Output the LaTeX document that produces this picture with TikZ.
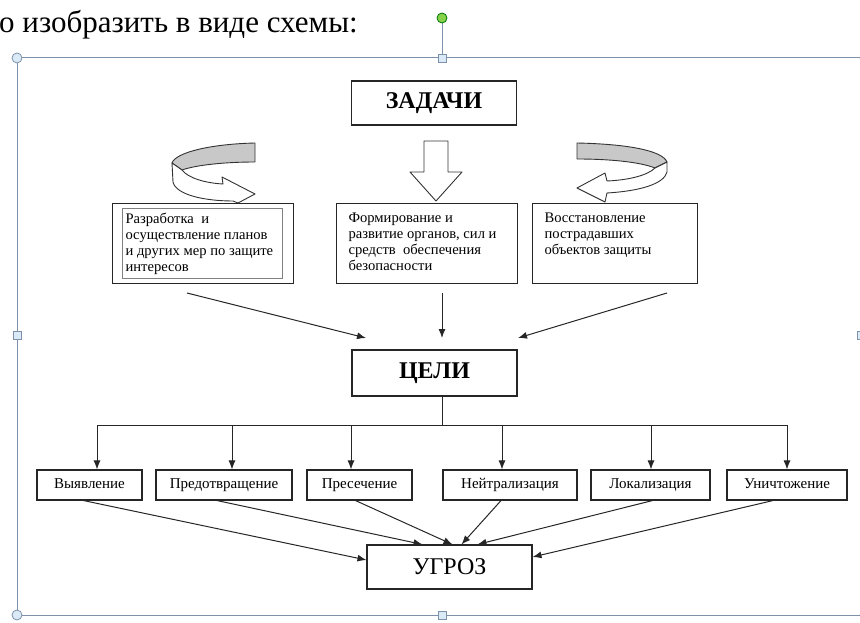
\documentclass[tikz,border=0pt]{standalone}
\usepackage{fontspec}
\setmainfont{Liberation Serif}
\usetikzlibrary{arrows.meta}

\definecolor{selframe}{RGB}{125,145,170}
\definecolor{selfill}{RGB}{218,234,246}
\definecolor{rotgreen}{RGB}{135,210,75}
\definecolor{bandgray}{RGB}{200,200,200}

\begin{document}
\begin{tikzpicture}[x=1pt,y=-1pt,
	box/.style={draw=black!85,line width=1.1pt,inner sep=0pt,align=center},
	big/.style={box,minimum width=165pt,font=\fontsize{24}{28}\selectfont},
	txtbox/.style={draw=black!85,line width=1.1pt,anchor=north west,inner xsep=12pt,inner ysep=9pt,font=\fontsize{14.6}{16}\selectfont},
	small/.style={box,minimum height=30pt,text height=10.5pt,text depth=3pt,font=\fontsize{15}{16}\selectfont},
	arr/.style={-{Latex[length=9pt,width=7pt]},line width=1pt,black!85},
	conn/.style={line width=1pt,black!85},
	curl/.style={draw=black!80,line width=0.9pt,line join=round},
	hdl/.style={draw=selframe,fill=selfill,line width=0.8pt}]
	\useasboundingbox (0,0) rectangle (860,623);

	% text above the drawing
	\node[anchor=base west,inner sep=0pt,font=\fontsize{31}{36}\selectfont] (caption) at (-1,33) {о изобразить в виде схемы:};

	% selection frame
	\draw[selframe,line width=1pt] (866,58) -- (17,58) -- (17,615) -- (866,615);
	\draw[selframe,line width=1pt] (442,23) -- (442,54);
	\draw[draw=green!45!black,fill=rotgreen,line width=0.8pt] (442,18) circle[radius=5pt];
	\draw[hdl] (17,58) circle[radius=5pt];
	\draw[hdl] (17,615) circle[radius=5pt];
	\draw[hdl] (865,58) circle[radius=5pt];
	\draw[hdl] (865,615) circle[radius=5pt];
	\draw[hdl] (438,54) rectangle (446,62);
	\draw[hdl] (438,611) rectangle (446,619);
	\draw[hdl] (13,331) rectangle (21,339);
	\draw[hdl] (857,331) rectangle (865,339);

	% main boxes
	\node[big,font=\bfseries\fontsize{24}{28}\selectfont,minimum height=44pt] (tasks) at (434,103) {ЗАДАЧИ};
	\node[big,font=\bfseries\fontsize{24}{28}\selectfont,minimum height=46pt] (goals) at (434.5,373) {ЦЕЛИ};
	\node[big,minimum height=44pt] (threat) at (449.5,567) {УГРОЗ};

	% tasks
	\node[txtbox,inner xsep=13pt] (plans) at (112,203) {\parbox[t][62pt][t]{155pt}{\raggedright Разработка\ \ и\\ осуществление планов\\ и других мер по защите\\ интересов}};
	\draw[gray,line width=0.6pt] ([shift={(10pt,-5pt)}]plans.north west) rectangle ([shift={(-12pt,6pt)}]plans.south east);
	\node[txtbox] (forces) at (336,203) {\parbox[t][62pt][t]{157pt}{\raggedright Формирование и\\ развитие органов, сил и\\ средств\ \ обеспечения\\ безопасности}};
	\node[txtbox] (restore) at (532,203) {\parbox[t][62pt][t]{141pt}{\raggedright Восстановление\\ пострадавших\\ объектов защиты}};

	% curved arrows
	\draw[curl,fill=bandgray] (255,143) .. controls (212,144) and (176,152) .. (172,163) -- (182,170) .. controls (196,165) and (225,162) .. (255,162) -- cycle;
	\draw[curl,fill=white] (172,163) -- (173,182) .. controls (176,195) and (205,201) .. (233,201) -- (238,203) -- (255,194) -- (222,177) -- (223,184) .. controls (205,183) and (188,178) .. (182,170) -- cycle;
	\draw[curl,fill=white] (424,141) -- (448,141) -- (448,172) -- (462,172) -- (436,201) -- (410,172) -- (424,172) -- cycle;
	\draw[curl,fill=bandgray] (577,143) .. controls (625,144) and (662,150) .. (667,162) -- (655,168) .. controls (640,162) and (610,159) .. (577,159) -- cycle;
	\draw[curl,fill=white] (667,162) -- (667,172) .. controls (664,184) and (640,191) .. (607,193) -- (605,202) -- (577,188) -- (605,173) -- (607,181) .. controls (630,180) and (648,175) .. (655,168) -- cycle;

	% tasks to goals
	\coordinate (t1) at (187,293);
	\coordinate (t2) at (442,293);
	\coordinate (t3) at (667,293);
	\coordinate (g1) at (366,338);
	\coordinate (g2) at (442,338);
	\coordinate (g3) at (518,338);
	\path[arr] (t1) edge (g1)
		(t2) edge (g2)
		(t3) edge (g3);

	% goals
	\node[small,minimum width=105pt] (detect) at (89.5,485) {Выявление};
	\node[small,minimum width=136pt] (prevent) at (224,485) {Предотвращение};
	\node[small,minimum width=105pt] (suppress) at (359.5,485) {Пресечение};
	\node[small,minimum width=134pt] (neutral) at (510,485) {Нейтрализация};
	\node[small,minimum width=119pt] (local) at (650.5,485) {Локализация};
	\node[small,minimum width=120pt] (destroy) at (787,485) {Уничтожение};

	% bus from goals
	\coordinate (bus) at (442.5,425);
	\draw[conn] ([xshift=8pt]goals.south) -- (bus);
	\foreach \x/\n in {97/detect,232/prevent,351/suppress,502/neutral,651/local,787/destroy} {
		\coordinate (d\n) at (\x,425);
		\draw[arr] (d\n) -- (d\n |- \n.north);
	}
	\draw[conn] (ddetect) -- (ddestroy);

	% goals to threat
	\path[arr] ([xshift=-6pt]detect.south) edge ([yshift=7pt]threat.west)
		([xshift=-7pt]prevent.south) edge ([xshift=-27pt]threat.north)
		([xshift=-4pt]suppress.south) edge ([xshift=3pt]threat.north)
		([xshift=-9pt]neutral.south) edge ([xshift=12pt]threat.north)
		([xshift=2pt]local.south) edge ([xshift=28pt]threat.north)
		([xshift=-14pt]destroy.south) edge ([yshift=10pt]threat.east);
\end{tikzpicture}
\end{document}
